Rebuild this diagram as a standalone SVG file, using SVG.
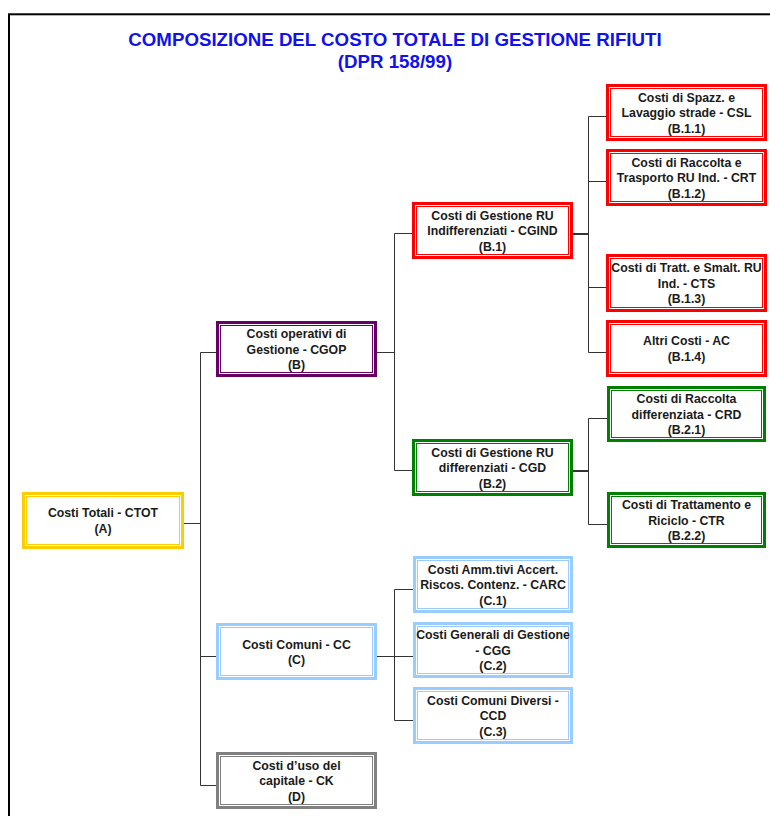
<svg xmlns="http://www.w3.org/2000/svg" width="770" height="816" viewBox="0 0 770 816">
<style>
.o{fill:#fff;stroke-width:3}
.i{fill:none;stroke-width:1}
.red rect{stroke:#ff0000}
.grn rect{stroke:#008000}
.blu rect{stroke:#99ccff}
.pur rect{stroke:#660066}
.yel rect{stroke:#ffcc00}
.gry rect{stroke:#808080}
text{font-family:"Liberation Sans",Arial,sans-serif;font-weight:bold;text-anchor:middle}
.t{font-size:12.3px;fill:#1a1a1a}
.h{font-size:18.7px;fill:#1111ee}
.c line{stroke:#333;stroke-width:1}
.c .k{stroke-width:2}
</style>
<rect x="0" y="0" width="770" height="816" fill="#fff"/>
<rect x="9" y="14.3" width="800" height="850" fill="none" stroke="#000" stroke-width="2"/>
<g id="title">
<text class="h" x="395" y="45.5">COMPOSIZIONE DEL COSTO TOTALE DI GESTIONE RIFIUTI</text>
<text class="h" x="395" y="67.5">(DPR 158/99)</text>
</g>
<g id="connectors" class="c">
<line x1="184" y1="523.5" x2="200.5" y2="523.5"/>
<line x1="200.5" y1="352.5" x2="200.5" y2="785.5"/>
<line x1="200.5" y1="352.5" x2="216" y2="352.5"/>
<line x1="200.5" y1="656.5" x2="216" y2="656.5"/>
<line x1="200.5" y1="785.5" x2="216" y2="785.5"/>
<line x1="377" y1="352.5" x2="394.5" y2="352.5"/>
<line x1="394.5" y1="233.5" x2="394.5" y2="470.5"/>
<line x1="394.5" y1="233.5" x2="412" y2="233.5"/>
<line x1="394.5" y1="470.5" x2="412" y2="470.5"/>
<line class="k" x1="573" y1="234" x2="588.5" y2="234"/>
<line x1="588.5" y1="116.5" x2="588.5" y2="352.5"/>
<line x1="588.5" y1="116.5" x2="606" y2="116.5"/>
<line x1="588.5" y1="181.5" x2="606" y2="181.5"/>
<line x1="588.5" y1="287.5" x2="606" y2="287.5"/>
<line x1="588.5" y1="352.5" x2="606" y2="352.5"/>
<line class="k" x1="573" y1="471" x2="588.5" y2="471"/>
<line x1="588.5" y1="418.5" x2="588.5" y2="524.5"/>
<line x1="588.5" y1="418.5" x2="607" y2="418.5"/>
<line x1="588.5" y1="524.5" x2="607" y2="524.5"/>
<line x1="377" y1="656.5" x2="394.5" y2="656.5"/>
<line x1="394.5" y1="589.5" x2="394.5" y2="720.5"/>
<line x1="394.5" y1="589.5" x2="413" y2="589.5"/>
<line x1="394.5" y1="656.5" x2="413" y2="656.5"/>
<line x1="394.5" y1="720.5" x2="413" y2="720.5"/>
</g>
<g id="ctot" class="yel">
<rect class="o" x="23.5" y="493.5" width="159" height="54"/>
<rect class="i" x="26.5" y="496.5" width="153" height="48"/>
<text class="t" x="103" y="517.3">Costi Totali - CTOT</text>
<text class="t" x="103" y="532.5">(A)</text>
</g>
<g id="cgop" class="pur">
<rect class="o" x="217.5" y="322.5" width="158" height="53"/>
<rect class="i" x="220.5" y="325.5" width="152" height="47"/>
<text class="t" x="296.5" y="338">Costi operativi di</text>
<text class="t" x="296.5" y="353.5">Gestione - CGOP</text>
<text class="t" x="296.5" y="369">(B)</text>
</g>
<g id="cc" class="blu">
<rect class="o" x="217.5" y="624.5" width="158" height="54"/>
<rect class="i" x="220.5" y="627.5" width="152" height="48"/>
<text class="t" x="296.5" y="648.5">Costi Comuni - CC</text>
<text class="t" x="296.5" y="664">(C)</text>
</g>
<g id="ck" class="gry">
<rect class="o" x="217.5" y="753.5" width="158" height="54"/>
<rect class="i" x="220.5" y="756.5" width="152" height="48"/>
<text class="t" x="296.5" y="769.5">Costi d’uso del</text>
<text class="t" x="296.5" y="785">capitale - CK</text>
<text class="t" x="296.5" y="800.5">(D)</text>
</g>
<g id="cgind" class="red">
<rect class="o" x="413.5" y="203.5" width="158" height="54"/>
<rect class="i" x="416.5" y="206.5" width="152" height="48"/>
<text class="t" x="492.5" y="219.5">Costi di Gestione RU</text>
<text class="t" x="492.5" y="235">Indifferenziati - CGIND</text>
<text class="t" x="492.5" y="250.5">(B.1)</text>
</g>
<g id="cgd" class="grn">
<rect class="o" x="413.5" y="440.5" width="158" height="54"/>
<rect class="i" x="416.5" y="443.5" width="152" height="48"/>
<text class="t" x="492.5" y="456.5">Costi di Gestione RU</text>
<text class="t" x="492.5" y="472">differenziati - CGD</text>
<text class="t" x="492.5" y="487.5">(B.2)</text>
</g>
<g id="c1" class="blu">
<rect class="o" x="414.5" y="557.5" width="157" height="54"/>
<rect class="i" x="417.5" y="560.5" width="151" height="48"/>
<text class="t" x="493" y="573.5">Costi Amm.tivi Accert.</text>
<text class="t" x="493" y="589">Riscos. Contenz. - CARC</text>
<text class="t" x="493" y="604.5">(C.1)</text>
</g>
<g id="c2" class="blu">
<rect class="o" x="414.5" y="623.5" width="157" height="53"/>
<rect class="i" x="417.5" y="626.5" width="151" height="47"/>
<text class="t" x="493" y="639">Costi Generali di Gestione</text>
<text class="t" x="493" y="654.5">- CGG</text>
<text class="t" x="493" y="670">(C.2)</text>
</g>
<g id="c3" class="blu">
<rect class="o" x="414.5" y="688.5" width="157" height="54"/>
<rect class="i" x="417.5" y="691.5" width="151" height="48"/>
<text class="t" x="493" y="704.5">Costi Comuni Diversi -</text>
<text class="t" x="493" y="720">CCD</text>
<text class="t" x="493" y="735.5">(C.3)</text>
</g>
<g id="b11" class="red">
<rect class="o" x="607.5" y="85.5" width="158" height="54"/>
<rect class="i" x="610.5" y="88.5" width="152" height="48"/>
<text class="t" x="686.5" y="101.5">Costi di Spazz. e</text>
<text class="t" x="686.5" y="117">Lavaggio strade - CSL</text>
<text class="t" x="686.5" y="132.5">(B.1.1)</text>
</g>
<g id="b12" class="red">
<rect class="o" x="607.5" y="150.5" width="158" height="54"/>
<rect class="i" x="610.5" y="153.5" width="152" height="48"/>
<text class="t" x="686.5" y="166.5">Costi di Raccolta e</text>
<text class="t" x="686.5" y="182">Trasporto RU Ind. - CRT</text>
<text class="t" x="686.5" y="197.5">(B.1.2)</text>
</g>
<g id="b13" class="red">
<rect class="o" x="607.5" y="255.5" width="158" height="55"/>
<rect class="i" x="610.5" y="258.5" width="152" height="49"/>
<text class="t" x="686.5" y="272">Costi di Tratt. e Smalt. RU</text>
<text class="t" x="686.5" y="287.5">Ind. - CTS</text>
<text class="t" x="686.5" y="303">(B.1.3)</text>
</g>
<g id="b14" class="red">
<rect class="o" x="607.5" y="321.5" width="158" height="54"/>
<rect class="i" x="610.5" y="324.5" width="152" height="48"/>
<text class="t" x="686.5" y="345.3">Altri Costi - AC</text>
<text class="t" x="686.5" y="360.8">(B.1.4)</text>
</g>
<g id="crd" class="grn">
<rect class="o" x="608.5" y="387.5" width="156" height="53"/>
<rect class="i" x="611.5" y="390.5" width="150" height="47"/>
<text class="t" x="686.5" y="403">Costi di Raccolta</text>
<text class="t" x="686.5" y="418.5">differenziata - CRD</text>
<text class="t" x="686.5" y="434">(B.2.1)</text>
</g>
<g id="ctr" class="grn">
<rect class="o" x="608.5" y="493.5" width="156" height="53"/>
<rect class="i" x="611.5" y="496.5" width="150" height="47"/>
<text class="t" x="686.5" y="509">Costi di Trattamento e</text>
<text class="t" x="686.5" y="524.5">Riciclo - CTR</text>
<text class="t" x="686.5" y="540">(B.2.2)</text>
</g>
</svg>
